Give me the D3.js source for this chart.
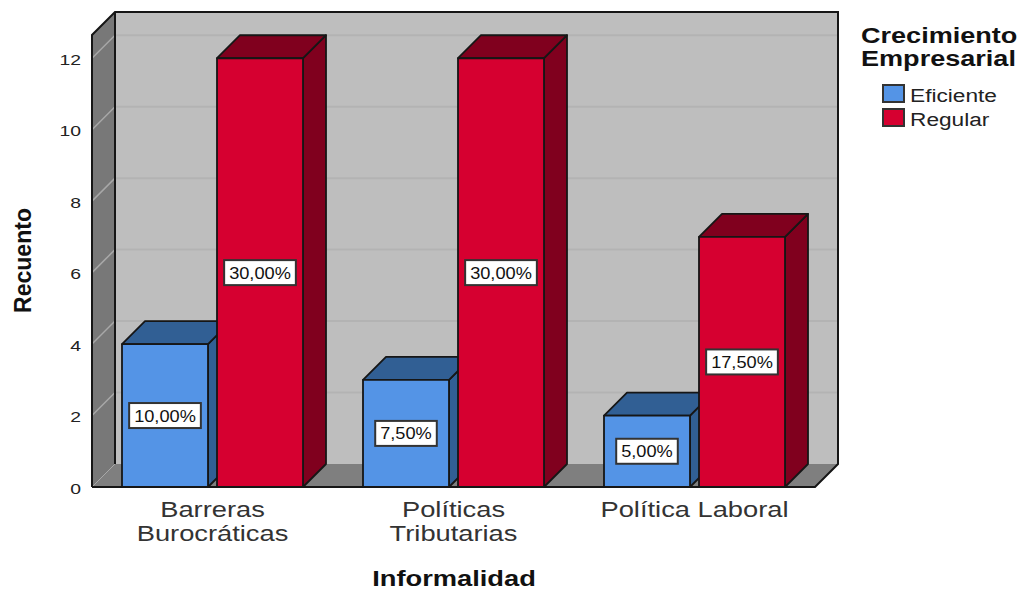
<!DOCTYPE html>
<html><head><meta charset="utf-8">
<script src="https://cdn.jsdelivr.net/npm/d3@7"></script>
<style>html,body{margin:0;padding:0;background:#fff}svg{display:block}text{font-family:"Liberation Sans",Arial,sans-serif}</style>
</head><body><svg id="c" width="1027" height="590"></svg>
<script>
const categories=[["Barreras","Burocráticas"],["Políticas","Tributarias"],["Política Laboral"]];
const seriesNames=["Eficiente","Regular"];
const eficiente=[4,3,2];
const regular=[12,12,7];
const eficienteLabels=["10,00%","7,50%","5,00%"];
const regularLabels=["30,00%","30,00%","17,50%"];
const yTicks=[0,2,4,6,8,10,12];
const axisMax=12.65;
const front={color:["#5494e6","#d60030"],side:["#315f94","#80001e"]};

const svg=d3.select("#c");
const keys=categories.map((d,i)=>i);
const x=d3.scaleBand().domain(keys).range([92,815]);
const y=d3.scaleLinear().domain([0,axisMax]).range([487,35]);
const x1=d3.scaleBand().domain(seriesNames).range([30,211]).paddingInner(9/95);
const D=23;
const pts=a=>a.map(p=>p.join(",")).join(" ");
const L=92,R=815,B=y(0),T=y(axisMax);
const ink="#161616";
const stretch=(sel,k)=>sel.each(function(){
  const w=this.getComputedTextLength();
  d3.select(this).attr("textLength",w*k).attr("lengthAdjust","spacingAndGlyphs");
});

svg.append("polygon").attr("points",pts([[L+D,T-D],[R+D,T-D],[R+D,B-D],[L+D,B-D]])).attr("fill","#bebebe");
svg.append("polygon").attr("points",pts([[L,T],[L+D,T-D],[L+D,B-D],[L,B]])).attr("fill","#787878");
svg.append("polygon").attr("points",pts([[L,B],[L+D,B-D],[R+D,B-D],[R,B]])).attr("fill","#7f7f7f");

yTicks.filter(v=>v>0).forEach(v=>{
  svg.append("line").attr("x1",L+D).attr("x2",R+D).attr("y1",y(v)-D).attr("y2",y(v)-D).attr("stroke","#b3b3b3").attr("stroke-width",2);
  svg.append("line").attr("x1",L).attr("x2",L+D).attr("y1",y(v)).attr("y2",y(v)-D).attr("stroke","#a8a8a8").attr("stroke-width",1.5);
});
svg.append("line").attr("x1",L).attr("x2",L+D).attr("y1",B).attr("y2",B-D).attr("stroke","#a8a8a8").attr("stroke-width",1);
svg.append("polyline").attr("fill","none").attr("stroke",ink).attr("stroke-width",2)
  .attr("points",pts([[L,B],[L,T],[L+D,T-D],[R+D,T-D],[R+D,B-D],[R,B],[L,B]]));
svg.append("line").attr("x1",L+D).attr("x2",L+D).attr("y1",T-D).attr("y2",B-D).attr("stroke",ink).attr("stroke-width",2);

const allSeries=[eficiente,regular];
const allLabels=[eficienteLabels,regularLabels];
const labelLayer=[];
keys.forEach(k=>{
  seriesNames.forEach((s,si)=>{
    const v=allSeries[si][k];
    const x0=x(k)+x1(s),x2=x0+x1.bandwidth(),yt=y(v);
    const g=svg.append("g").attr("stroke",ink).attr("stroke-width",1.8).attr("stroke-linejoin","round");
    g.append("polygon").attr("points",pts([[x2,yt],[x2+D,yt-D],[x2+D,B-D],[x2,B]])).attr("fill",front.side[si]);
    g.append("polygon").attr("points",pts([[x0,yt],[x0+D,yt-D],[x2+D,yt-D],[x2,yt]])).attr("fill",front.side[si]);
    g.append("rect").attr("x",x0).attr("y",yt).attr("width",x2-x0).attr("height",B-yt).attr("fill",front.color[si]);
    labelLayer.push({cx:(x0+x2)/2,cy:(yt+B)/2,t:allLabels[si][k]});
  });
});
labelLayer.forEach(d=>{
  const g=svg.append("g");
  const r=g.append("rect").attr("fill","#fff").attr("stroke","#333").attr("stroke-width",2);
  const t=g.append("text").attr("x",d.cx).attr("y",d.cy+6).attr("text-anchor","middle").attr("font-size",17).attr("fill","#111").text(d.t);
  const w=t.node().getComputedTextLength()*1.07;
  t.attr("textLength",w).attr("lengthAdjust","spacingAndGlyphs");
  r.attr("x",d.cx-(w+10)/2).attr("y",d.cy-12.5).attr("width",w+10).attr("height",25);
});

const yAxis=svg.append("g").attr("transform",`translate(${L},0)`)
  .call(d3.axisLeft(y).tickValues(yTicks).tickSize(0).tickPadding(11));
yAxis.select(".domain").remove();
yAxis.selectAll("text").attr("font-size",15.5).attr("fill","#222").style("font-family",'"Liberation Sans",Arial,sans-serif').attr("dy","0.4em").call(stretch,1.25);

const xAxis=svg.append("g").attr("transform",`translate(0,${B})`)
  .call(d3.axisBottom(x).tickSize(0).tickFormat(()=>""));
xAxis.select(".domain").remove();
xAxis.selectAll(".tick").each(function(k){
  const tick=d3.select(this);
  tick.select("text").remove();
  categories[k].forEach((line,i)=>{
    tick.append("text").attr("x",0).attr("y",30+i*24).attr("text-anchor","middle").attr("font-size",22).attr("fill","#333")
      .style("font-family",'"Liberation Sans",Arial,sans-serif').text(line).call(stretch,1.24);
  });
});

svg.append("text").attr("x",454).attr("y",586).attr("text-anchor","middle").attr("font-size",22).attr("font-weight","bold").attr("fill","#111").text("Informalidad").call(stretch,1.24);
svg.append("text").attr("transform","translate(31,260.5) rotate(-90)").attr("text-anchor","middle").attr("font-size",24).attr("font-weight","bold").attr("fill","#111").text("Recuento").call(stretch,0.96);

svg.append("text").attr("x",861).attr("y",43).attr("font-size",22).attr("font-weight","bold").attr("fill","#111").text("Crecimiento").call(stretch,1.23);
svg.append("text").attr("x",861).attr("y",66).attr("font-size",22).attr("font-weight","bold").attr("fill","#111").text("Empresarial").call(stretch,1.23);
seriesNames.forEach((s,i)=>{
  svg.append("rect").attr("x",883).attr("y",85+i*24).attr("width",21).attr("height",17).attr("fill",front.color[i]).attr("stroke","#333").attr("stroke-width",2);
  svg.append("text").attr("x",910).attr("y",102+i*24).attr("font-size",18).attr("fill","#222").text(s).call(stretch,1.26);
});
</script></body></html>
